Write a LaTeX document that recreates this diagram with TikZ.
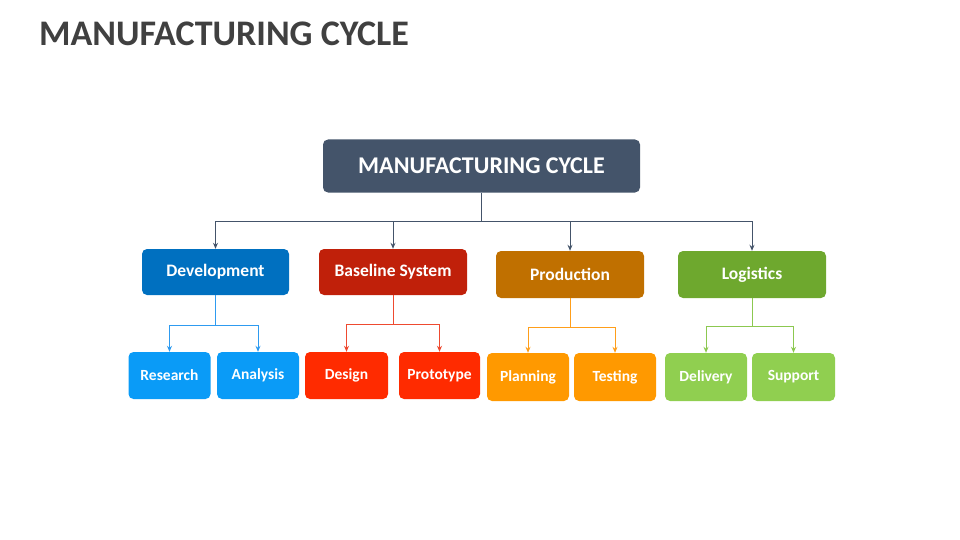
\documentclass[tikz,border=0pt]{standalone}
\usepackage{fontspec}
\setmainfont{Carlito}
\usetikzlibrary{arrows.meta}
\definecolor{titlegray}{HTML}{404040}
\definecolor{slate}{HTML}{44546A}
\definecolor{devc}{HTML}{0070C0}
\definecolor{basec}{HTML}{C0200A}
\definecolor{prodc}{HTML}{C07000}
\definecolor{logc}{HTML}{6EA82E}
\definecolor{bluec}{HTML}{0A9BF7}
\definecolor{redc}{HTML}{FF2B00}
\definecolor{orangec}{HTML}{FF9900}
\definecolor{greenc}{HTML}{90CF50}
\definecolor{bluel}{HTML}{2E9BF0}
\definecolor{redl}{HTML}{EE4A30}
\definecolor{orangel}{HTML}{FF9E1A}
\definecolor{greenl}{HTML}{8CC850}
\tikzset{
  box/.style={rounded corners=5pt, text=white, font=\bfseries, inner sep=0pt, align=center},
  lvltwo/.style={box, minimum width=147pt, minimum height=46pt, font=\fontsize{17.5}{20}\selectfont\bfseries},
  lvlthree/.style={box, minimum width=82pt, minimum height=47pt, font=\fontsize{15.5}{18}\selectfont\bfseries},
  conn/.style={line width=1pt},
  tip/.style={-{Stealth[length=6pt,width=5pt]}}
}
\begin{document}
\begin{tikzpicture}[x=1pt,y=-1pt]
\useasboundingbox (0,0) rectangle (960,540);
\node[anchor=west, text=titlegray, font=\fontsize{36}{40}\selectfont\bfseries, inner sep=0pt] (title) at (39,34) {MANUFACTURING CYCLE};

\node[box, fill=slate, minimum width=317pt, minimum height=53pt, font=\fontsize{24}{26}\selectfont\bfseries] (main) at (481.5,166) {MANUFACTURING CYCLE};

\node[lvltwo, fill=devc] (dev) at (215.5,272) {Development};
\node[lvltwo, fill=basec, minimum width=148pt] (base) at (393,272) {Baseline System};
\node[lvltwo, fill=prodc, minimum width=148pt, minimum height=47pt] (prod) at (570,274.5) {Production};
\node[lvltwo, fill=logc, minimum width=148pt, minimum height=47pt] (log) at (752,274.5) {Logistics};

\node[lvlthree, fill=bluec] (res) at (169.5,375.5) {Research};
\node[lvlthree, fill=bluec] (ana) at (258,375.5) {Analysis};
\node[lvlthree, fill=redc, minimum width=83pt] (des) at (346.5,375.5) {Design};
\node[lvlthree, fill=redc, minimum width=81pt] (pro) at (439.5,375.5) {Prototype};
\node[lvlthree, fill=orangec, minimum height=48pt] (pla) at (528,377) {Planning};
\node[lvlthree, fill=orangec, minimum height=48pt] (tes) at (615,377) {Testing};
\node[lvlthree, fill=greenc, minimum height=48pt] (del) at (706,377) {Delivery};
\node[lvlthree, fill=greenc, minimum height=48pt, minimum width=83pt] (sup) at (793.5,377) {Support};

% top level connectors
\coordinate (bus) at (0,221);
\draw[conn, slate] (main.south) -- (main.south |- bus);
\draw[conn, slate] (dev.north |- bus) -- (log.north |- bus);
\foreach \n in {dev,base,prod,log}{
  \draw[conn, slate, tip] (\n.north |- bus) -- (\n.north);
}

% development
\coordinate (devbus) at (0,325);
\draw[conn, bluel] (dev.south) -- (dev.south |- devbus);
\draw[conn, bluel] (res.north |- devbus) -- (ana.north |- devbus);
\draw[conn, bluel, tip] (res.north |- devbus) -- (res.north);
\draw[conn, bluel, tip] (ana.north |- devbus) -- (ana.north);

% baseline
\coordinate (basebus) at (0,324);
\draw[conn, redl] (base.south) -- (base.south |- basebus);
\draw[conn, redl] (des.north |- basebus) -- (pro.north |- basebus);
\draw[conn, redl, tip] (des.north |- basebus) -- (des.north);
\draw[conn, redl, tip] (pro.north |- basebus) -- (pro.north);

% production
\coordinate (prodbus) at (0,327);
\draw[conn, orangel] (prod.south) -- (prod.south |- prodbus);
\draw[conn, orangel] (pla.north |- prodbus) -- (tes.north |- prodbus);
\draw[conn, orangel, tip] (pla.north |- prodbus) -- (pla.north);
\draw[conn, orangel, tip] (tes.north |- prodbus) -- (tes.north);

% logistics
\coordinate (logbus) at (0,326);
\draw[conn, greenl] (log.south) -- (log.south |- logbus);
\draw[conn, greenl] (del.north |- logbus) -- (sup.north |- logbus);
\draw[conn, greenl, tip] (del.north |- logbus) -- (del.north);
\draw[conn, greenl, tip] (sup.north |- logbus) -- (sup.north);
\end{tikzpicture}
\end{document}
